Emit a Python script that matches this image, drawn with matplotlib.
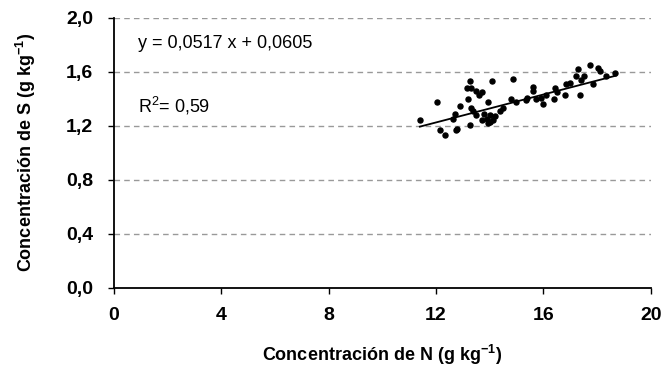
import numpy as np
import matplotlib.pyplot as plt
from matplotlib.ticker import FuncFormatter

# N and S concentrations (g kg-1)
n_conc = [11.42, 12.02, 12.14, 12.33, 12.76, 12.80, 12.64, 12.70, 12.89, 13.20,
          13.26, 13.28, 13.32, 13.15, 13.50, 13.70, 13.60, 13.38, 13.30, 13.50,
          13.90, 14.00, 14.07, 13.94, 13.80, 13.94, 14.19, 14.12, 14.00, 13.70,
          14.38, 14.50, 14.87, 14.80, 15.00, 15.37, 15.40, 15.62, 15.60, 15.74,
          15.90, 15.99, 16.10, 16.42, 16.50, 16.40, 16.86, 16.80, 17.00, 17.23,
          17.30, 17.36, 17.40, 17.50, 17.73, 18.04, 18.10, 17.85, 18.35, 18.66]
s_conc = [1.24, 1.38, 1.17, 1.13, 1.17, 1.18, 1.25, 1.29, 1.35, 1.40,
          1.21, 1.53, 1.48, 1.48, 1.46, 1.45, 1.43, 1.31, 1.33, 1.28,
          1.25, 1.28, 1.53, 1.38, 1.29, 1.22, 1.27, 1.24, 1.23, 1.24,
          1.31, 1.33, 1.55, 1.40, 1.38, 1.39, 1.41, 1.49, 1.46, 1.40,
          1.41, 1.36, 1.43, 1.48, 1.45, 1.40, 1.51, 1.43, 1.52, 1.57,
          1.62, 1.43, 1.54, 1.57, 1.65, 1.63, 1.61, 1.51, 1.57, 1.59]

fit_slope = 0.0517
fit_intercept = 0.605
fit_range = [11.4, 18.7]

x_ticks = [0, 4, 8, 12, 16, 20]
y_ticks = [0.0, 0.4, 0.8, 1.2, 1.6, 2.0]

plain = ['Liberation Sans', 'DejaVu Sans']

fig = plt.figure(figsize=(6.66, 3.72), dpi=100)
ax = fig.add_axes([0.171, 0.226, 0.806, 0.726])

for yv in y_ticks[1:]:
    ax.axhline(yv, color='#999999', lw=1, ls=(0, (4, 3)), zorder=0)

ax.scatter(n_conc, s_conc, s=13, color='black', marker='o', zorder=3)
xf = np.array(fit_range)
ax.plot(xf, fit_slope * xf + fit_intercept, color='black', lw=1.3, zorder=2)

ax.set_xlim(0, 20)
ax.set_ylim(0, 2.0)
ax.set_xticks(x_ticks)
ax.set_yticks(y_ticks)
ax.xaxis.set_major_formatter(FuncFormatter(lambda v, p: '%d' % v))
ax.yaxis.set_major_formatter(FuncFormatter(lambda v, p: ('%.1f' % v).replace('.', ',')))

for s in ['top', 'right']:
    ax.spines[s].set_visible(False)
for s in ['left', 'bottom']:
    ax.spines[s].set_linewidth(1.3)
ax.tick_params(direction='out', length=4, width=1)
ax.tick_params(axis='x', pad=10)
ax.tick_params(axis='y', pad=11)
for lab in ax.get_xticklabels() + ax.get_yticklabels():
    lab.set_family(plain)
    lab.set_fontweight('bold')
    lab.set_fontsize(14)

ax.set_xlabel('Concentración de N (g kg$^{\\mathregular{-1}}$)', family=plain,
              fontweight='bold', fontsize=13, labelpad=13)
ax.set_ylabel('Concentración de S (g kg$^{\\mathregular{-1}}$)', family=plain,
              fontweight='bold', fontsize=13, labelpad=20)

ax.text(0.045, 0.905, 'y = 0,0517 x + 0,0605', transform=ax.transAxes,
        family=plain, fontsize=13, va='center')
ax.text(0.045, 0.675, 'R$^{\\mathregular{2}}$= 0,59', transform=ax.transAxes,
        family=plain, fontsize=13, va='center')

fig.savefig('out.png', dpi=100)
